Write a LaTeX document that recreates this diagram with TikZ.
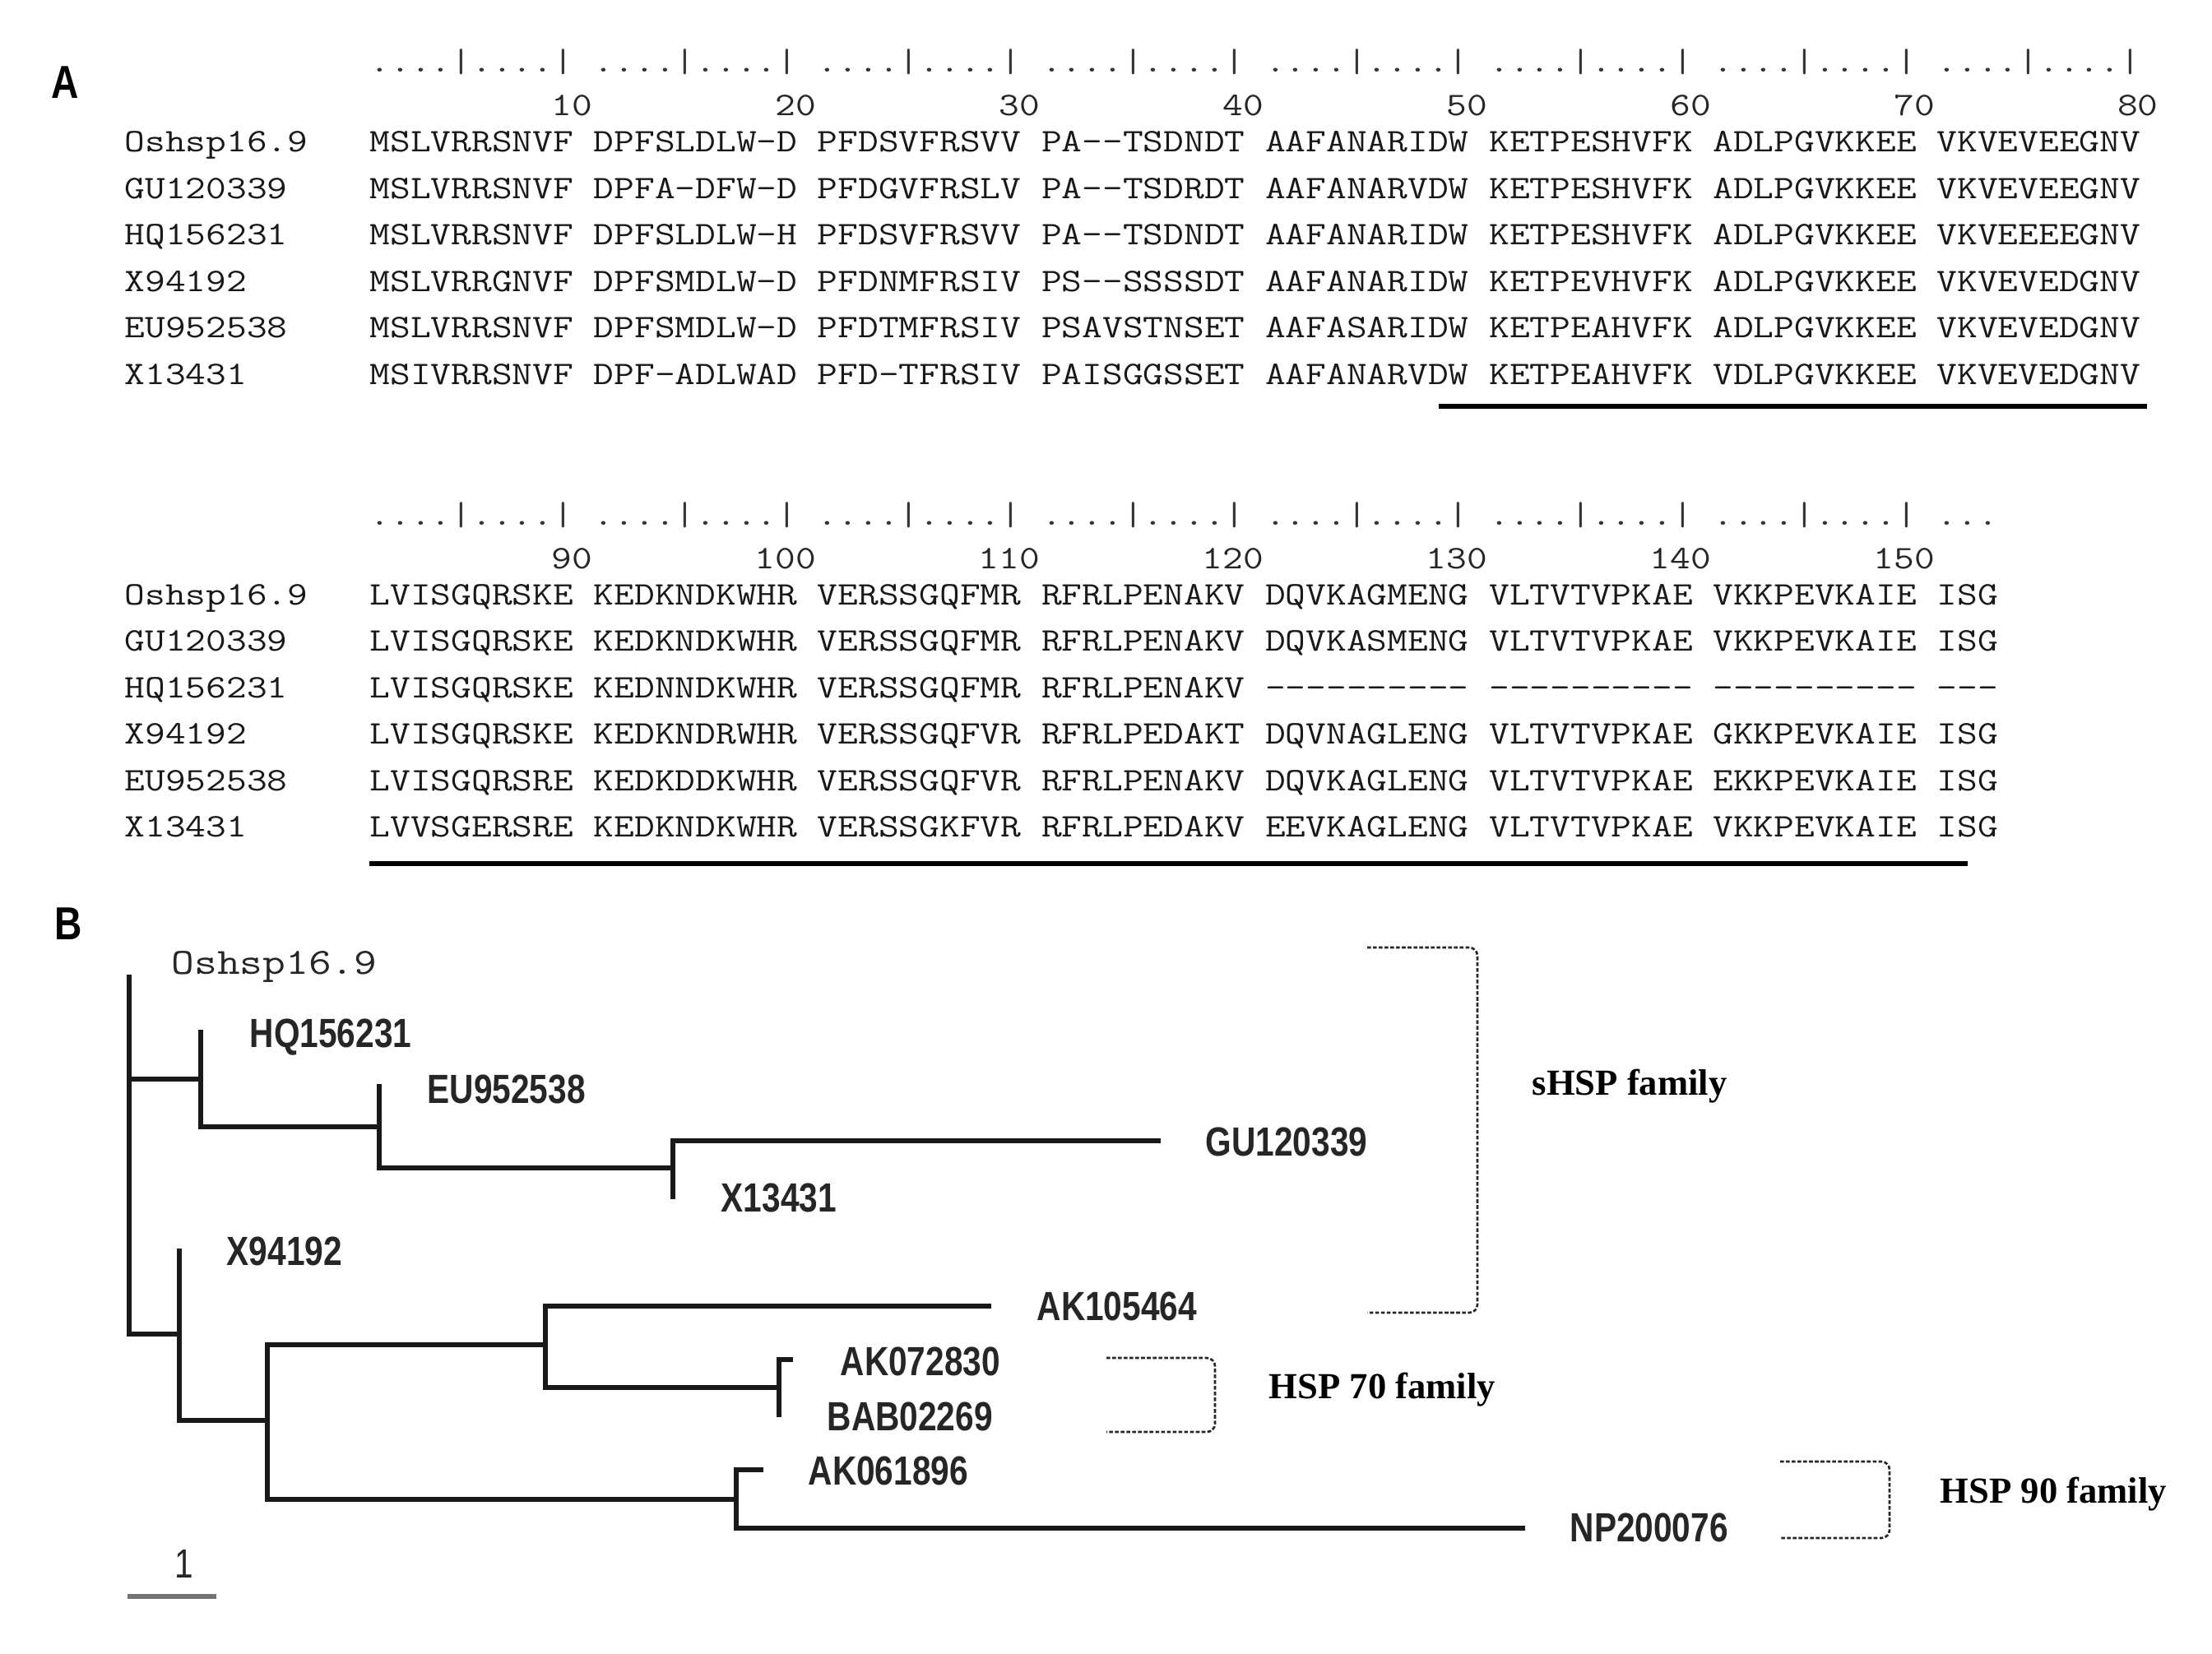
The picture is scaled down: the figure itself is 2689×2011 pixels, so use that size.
\documentclass[tikz,border=0pt]{standalone}
\usepackage{fontspec}
\setmainfont{Liberation Serif}
\setmonofont{Latin Modern Mono}[FakeStretch=1.2]
\newfontfamily\narrowsans{Liberation Sans}[FakeStretch=0.82]
\usepackage{tikz}
\usetikzlibrary{positioning}

\begin{document}
\begin{tikzpicture}[x=0.1mm, y=-0.1mm,
  panellbl/.style={anchor=base west, inner sep=0pt,
                   font=\narrowsans\bfseries\fontsize{16pt}{18pt}\selectfont},
  rulertxt/.style={anchor=base west, inner sep=0pt, text=black!80,
                   font=\ttfamily\fontsize{11.39pt}{14pt}\selectfont},
  numtxt/.style={anchor=base east, inner sep=0pt, text=black!85,
                 font=\ttfamily\fontsize{11.39pt}{14pt}\selectfont},
  seqname/.style={anchor=base west, inner sep=0pt, text=black!90,
                  font=\ttfamily\fontsize{11.39pt}{14pt}\selectfont},
  seqtxt/.style={anchor=base west, inner sep=0pt, text=black!90,
                 font=\ttfamily\fontsize{11.39pt}{14pt}\selectfont},
  underbar/.style={line width=1.8pt},
  branch/.style={line width=1.8pt, draw=black!90},
  tiplbl/.style={anchor=base west, inner sep=0pt, text=black!85,
                 font=\narrowsans\bfseries\fontsize{14.1pt}{16pt}\selectfont},
  tipmono/.style={anchor=base west, inner sep=0pt, text=black!85,
                  font=\ttfamily\fontsize{12.78pt}{15pt}\selectfont},
  famlbl/.style={anchor=base west, inner sep=0pt,
                 font=\bfseries\fontsize{12.7pt}{15pt}\selectfont},
  bracket/.style={line width=0.75pt, draw=black!85, dash pattern=on 1.3pt off 0.7pt,
                  rounded corners=1mm},
  scalebar/.style={line width=1.8pt, draw=black!55}
]
\path[fill=white] (0,0) rectangle (2689,2011);

% === Panel A: alignment, residues 1-80 =======================================
\node[panellbl] (pA) at (62,120) {A};
\node[rulertxt] (ru1) at (449,88)
  {....|....| ....|....| ....|....| ....|....| ....|....| ....|....| ....|....| ....|....|};
\foreach \b/\num in {0/10,1/20,2/30,3/40,4/50,5/60,6/70,7/80}
  \node[numtxt] (no\num) at ({449+271.92*(\b+1)},141) {\num};

\node[seqname] (nA1) at (151,185)   {Oshsp16.9};
\node[seqname] (nA2) at (151,241.5) {GU120339};
\node[seqname] (nA3) at (151,298)   {HQ156231};
\node[seqname] (nA4) at (151,354.5) {X94192};
\node[seqname] (nA5) at (151,411)   {EU952538};
\node[seqname] (nA6) at (151,467.5) {X13431};

\node[seqtxt] (sA1) at (449,185)
  {MSLVRRSNVF DPFSLDLW-D PFDSVFRSVV PA--TSDNDT AAFANARIDW KETPESHVFK ADLPGVKKEE VKVEVEEGNV};
\node[seqtxt] (sA2) at (449,241.5)
  {MSLVRRSNVF DPFA-DFW-D PFDGVFRSLV PA--TSDRDT AAFANARVDW KETPESHVFK ADLPGVKKEE VKVEVEEGNV};
\node[seqtxt] (sA3) at (449,298)
  {MSLVRRSNVF DPFSLDLW-H PFDSVFRSVV PA--TSDNDT AAFANARIDW KETPESHVFK ADLPGVKKEE VKVEEEEGNV};
\node[seqtxt] (sA4) at (449,354.5)
  {MSLVRRGNVF DPFSMDLW-D PFDNMFRSIV PS--SSSSDT AAFANARIDW KETPEVHVFK ADLPGVKKEE VKVEVEDGNV};
\node[seqtxt] (sA5) at (449,411)
  {MSLVRRSNVF DPFSMDLW-D PFDTMFRSIV PSAVSTNSET AAFASARIDW KETPEAHVFK ADLPGVKKEE VKVEVEDGNV};
\node[seqtxt] (sA6) at (449,467.5)
  {MSIVRRSNVF DPF-ADLWAD PFD-TFRSIV PAISGGSSET AAFANARVDW KETPEAHVFK VDLPGVKKEE VKVEVEDGNV};

\coordinate (u1a) at (1749,494);
\coordinate (u1b) at (2610,494);
\draw[underbar] (u1a) -- (u1b);

% === Panel A: alignment, residues 81-153 =====================================
\node[rulertxt] (ru2) at (449,638)
  {....|....| ....|....| ....|....| ....|....| ....|....| ....|....| ....|....| ...};
\foreach \b/\num in {0/90,1/100,2/110,3/120,4/130,5/140,6/150}
  \node[numtxt] (no\num) at ({449+271.92*(\b+1)},691) {\num};

\node[seqname] (nB1) at (151,735)   {Oshsp16.9};
\node[seqname] (nB2) at (151,791.5) {GU120339};
\node[seqname] (nB3) at (151,848)   {HQ156231};
\node[seqname] (nB4) at (151,904.5) {X94192};
\node[seqname] (nB5) at (151,961)   {EU952538};
\node[seqname] (nB6) at (151,1017.5){X13431};

\node[seqtxt] (sB1) at (449,735)
  {LVISGQRSKE KEDKNDKWHR VERSSGQFMR RFRLPENAKV DQVKAGMENG VLTVTVPKAE VKKPEVKAIE ISG};
\node[seqtxt] (sB2) at (449,791.5)
  {LVISGQRSKE KEDKNDKWHR VERSSGQFMR RFRLPENAKV DQVKASMENG VLTVTVPKAE VKKPEVKAIE ISG};
\node[seqtxt] (sB3) at (449,848)
  {LVISGQRSKE KEDNNDKWHR VERSSGQFMR RFRLPENAKV ---------- ---------- ---------- ---};
\node[seqtxt] (sB4) at (449,904.5)
  {LVISGQRSKE KEDKNDRWHR VERSSGQFVR RFRLPEDAKT DQVNAGLENG VLTVTVPKAE GKKPEVKAIE ISG};
\node[seqtxt] (sB5) at (449,961)
  {LVISGQRSRE KEDKDDKWHR VERSSGQFVR RFRLPENAKV DQVKAGLENG VLTVTVPKAE EKKPEVKAIE ISG};
\node[seqtxt] (sB6) at (449,1017.5)
  {LVVSGERSRE KEDKNDKWHR VERSSGKFVR RFRLPEDAKV EEVKAGLENG VLTVTVPKAE VKKPEVKAIE ISG};

\coordinate (u2a) at (449,1050);
\coordinate (u2b) at (2392,1050);
\draw[underbar] (u2a) -- (u2b);

% === Panel B: tree ============================================================
\node[panellbl] (pB) at (66,1142) {B};

% branch ends
\coordinate (tOS)   at (157,1185);
\coordinate (tHQ)   at (244,1252);
\coordinate (tEU)   at (461,1318);
\coordinate (tGU)   at (1411,1387);
\coordinate (tX13)  at (818,1458);
\coordinate (tX94)  at (218,1518);
\coordinate (tAK10) at (1205,1588);
\coordinate (tAK07) at (964,1653);
\coordinate (tBAB)  at (947,1723);
\coordinate (tAK06) at (928,1787);
\coordinate (tNP)   at (1854,1858);
% inner joints
\coordinate (jHQ)   at (244,1312);
\coordinate (jEU)   at (461,1370);
\coordinate (jGU)   at (818,1420);
\coordinate (jX94)  at (218,1622);
\coordinate (j5)    at (325,1727);
\coordinate (j6)    at (663,1635);
\coordinate (j7)    at (947,1687);
\coordinate (j8)    at (895,1823);

\draw[branch] (tOS) |- (jX94);
\draw[branch] (tOS |- jHQ) -- (jHQ);
\draw[branch] (tHQ) |- (jEU);
\draw[branch] (tEU) |- (jGU);
\draw[branch] (tGU) -| (tX13);
\draw[branch] (tX94) |- (j5);
\draw[branch] (j6) -| (j5) |- (j8);
\draw[branch] (tAK10) -| (j6) |- (j7);
\draw[branch] (tAK07) -| (j7) -- (tBAB);
\draw[branch] (tAK06) -| (j8) |- (tNP);

% tip labels
\node[tipmono] (lOS)   at (208,1184)  {Oshsp16.9};
\node[tiplbl]  (lHQ)   at (303,1273)  {HQ156231};
\node[tiplbl]  (lEU)   at (519,1341)  {EU952538};
\node[tiplbl]  (lGU)   at (1465,1405) {GU120339};
\node[tiplbl]  (lX13)  at (876,1473)  {X13431};
\node[tiplbl]  (lX94)  at (275,1538)  {X94192};
\node[tiplbl]  (lAK10) at (1260,1605) {AK105464};
\node[tiplbl]  (lAK07) at (1021,1672) {AK072830};
\node[tiplbl]  (lBAB)  at (1005,1739) {BAB02269};
\node[tiplbl]  (lAK06) at (982,1805)  {AK061896};
\node[tiplbl]  (lNP)   at (1908,1874) {NP200076};

% scale bar
\coordinate (sb1) at (155,1941);
\coordinate (sb2) at (263,1941);
\draw[scalebar] (sb1) -- (sb2);
\node[anchor=base, inner sep=0pt, text=black!85,
      font=\narrowsans\fontsize{14.1pt}{16pt}\selectfont] (sbl) at (224,1918) {1};

% === Families (dashed brackets) ==============================================
\coordinate (fS1) at (1662,1152);
\coordinate (fS2) at (1662,1596);
\draw[bracket] (fS1) -- ++(134,0) |- (fS2);
\node[famlbl] (lS) at (1862,1331) {sHSP family};

\coordinate (f71) at (1345,1651);
\coordinate (f72) at (1345,1741);
\draw[bracket] (f71) -- ++(132,0) |- (f72);
\node[famlbl] (l70) at (1542,1700) {HSP 70 family};

\coordinate (f91) at (2164,1777);
\coordinate (f92) at (2164,1870);
\draw[bracket] (f91) -- ++(133,0) |- (f92);
\node[famlbl] (l90) at (2358,1827) {HSP 90 family};

\end{tikzpicture}
\end{document}
